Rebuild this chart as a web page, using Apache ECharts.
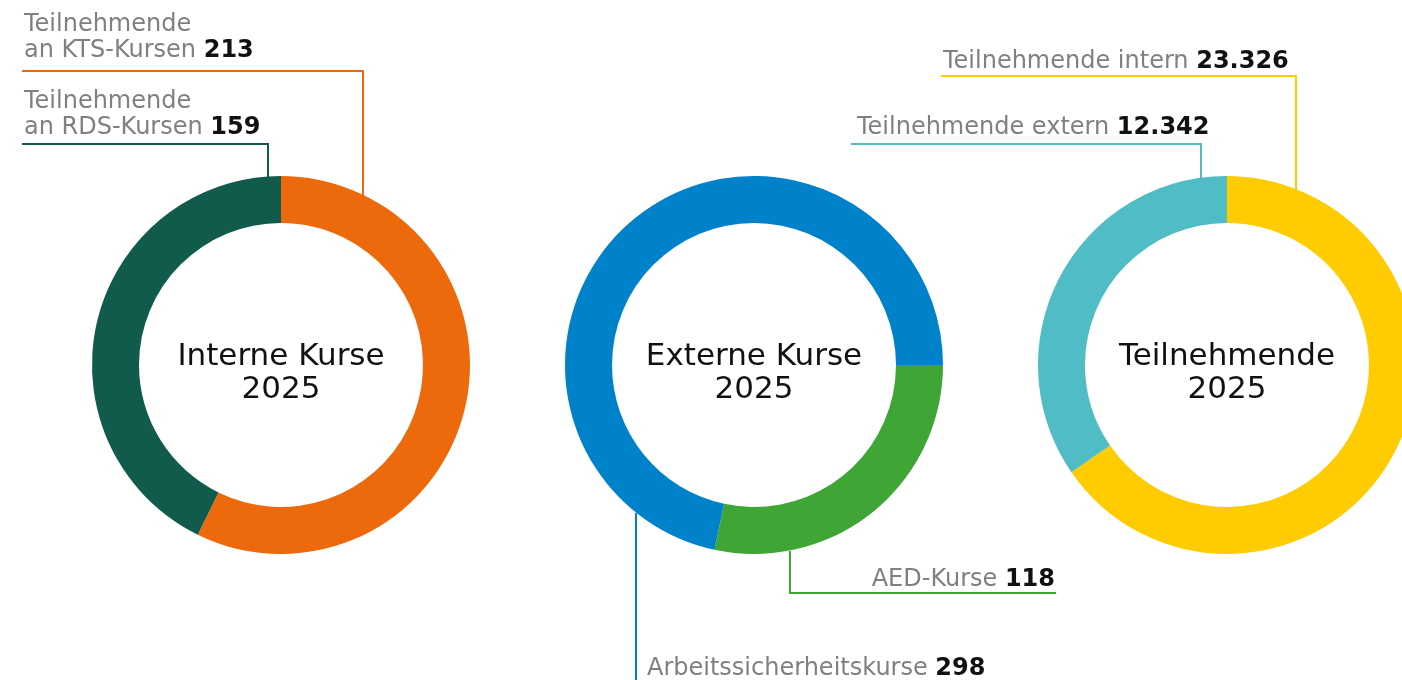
<!DOCTYPE html>
<html>
<head>
<meta charset="utf-8">
<script src="https://cdn.jsdelivr.net/npm/echarts@6/dist/echarts.min.js"></script>
<style>
  html, body { margin: 0; padding: 0; background: #fff; }
  #main { width: 1402px; height: 680px; }
</style>
</head>
<body>
<div id="main"></div>
<script>
var internNames = ['Teilnehmende\nan KTS-Kursen', 'Teilnehmende\nan RDS-Kursen'];
var internValues = [213, 159];
var externNames = ['AED-Kurse', 'Arbeitssicherheitskurse'];
var externValues = [118, 298];
var teilnNames = ['Teilnehmende intern', 'Teilnehmende extern'];
var teilnValues = [23326, 12342];
var titles = ['Interne Kurse\n2025', 'Externe Kurse\n2025', 'Teilnehmende\n2025'];

var FONT = 'DejaVu Sans';
var GRAY = '#808080';

function fmtNum(v) {
    return String(v).replace(/\B(?=(\d{3})+(?!\d))/g, '.');
}

// label anchor + leader line per series / item
var layouts = [
    [
        { x: 24, y: 12, align: 'left', line: [[22, 71], [363, 71], [363, 196]] },
        { x: 24, y: 89, align: 'left', line: [[22, 144], [268, 144], [268, 177]] }
    ],
    [
        { x: 1055, y: 567, align: 'right', line: [[1056, 593], [790, 593], [790, 551]] },
        { x: 647, y: 656, align: 'left', line: [[636, 690], [636, 680], [636, 513]] }
    ],
    [
        { x: 943, y: 49, align: 'left', line: [[941, 76], [1296, 76], [1296, 190]] },
        { x: 857, y: 115, align: 'left', line: [[851, 144], [1201, 144], [1201, 178]] }
    ]
];

function makeData(names, values, colors) {
    return names.map(function (n, i) {
        return { name: n, value: values[i], itemStyle: { color: colors[i] } };
    });
}

function pie(idx, center, data, startAngle) {
    return {
        type: 'pie',
        center: center,
        radius: [142, 189],
        startAngle: startAngle,
        clockwise: true,
        avoidLabelOverlap: false,
        silent: true,
        data: data,
        label: {
            show: true,
            position: 'outside',
            formatter: function (p) {
                var lines = p.name.split('\n');
                var last = lines.pop();
                var out = lines.map(function (l) { return '{a|' + l + '}'; });
                out.push('{a|' + last + ' }{b|' + fmtNum(p.value) + '}');
                return out.join('\n');
            },
            rich: {
                a: { fontFamily: FONT, fontSize: 24, color: GRAY, lineHeight: 26 },
                b: { fontFamily: FONT, fontSize: 24, color: '#111', fontWeight: 'bold', lineHeight: 26 }
            }
        },
        labelLine: { show: true, lineStyle: { width: 2 } },
        labelLayout: function (params) {
            var l = layouts[idx][params.dataIndex];
            return {
                x: l.x,
                y: l.y,
                align: l.align,
                verticalAlign: 'top',
                labelLinePoints: l.line
            };
        }
    };
}

var centers = [[281, 365], [754, 365], [1227, 365]];

var chart = echarts.init(document.getElementById('main'), null, { renderer: 'canvas' });
chart.setOption({
    animation: false,
    graphic: titles.map(function (t, i) {
        return {
            type: 'text',
            x: centers[i][0],
            y: centers[i][1] + 8,
            style: {
                text: t,
                fontFamily: FONT,
                fontSize: 31,
                lineHeight: 33,
                fill: '#111',
                align: 'center',
                verticalAlign: 'middle'
            }
        };
    }),
    series: [
        pie(0, centers[0], makeData(internNames, internValues, ['#EC690C', '#115B4D']), 90),
        pie(1, centers[1], makeData(externNames, externValues, ['#3FA535', '#0082CB']), 0),
        pie(2, centers[2], makeData(teilnNames, teilnValues, ['#FECC00', '#50BDC6']), 90)
    ]
});
</script>
</body>
</html>
